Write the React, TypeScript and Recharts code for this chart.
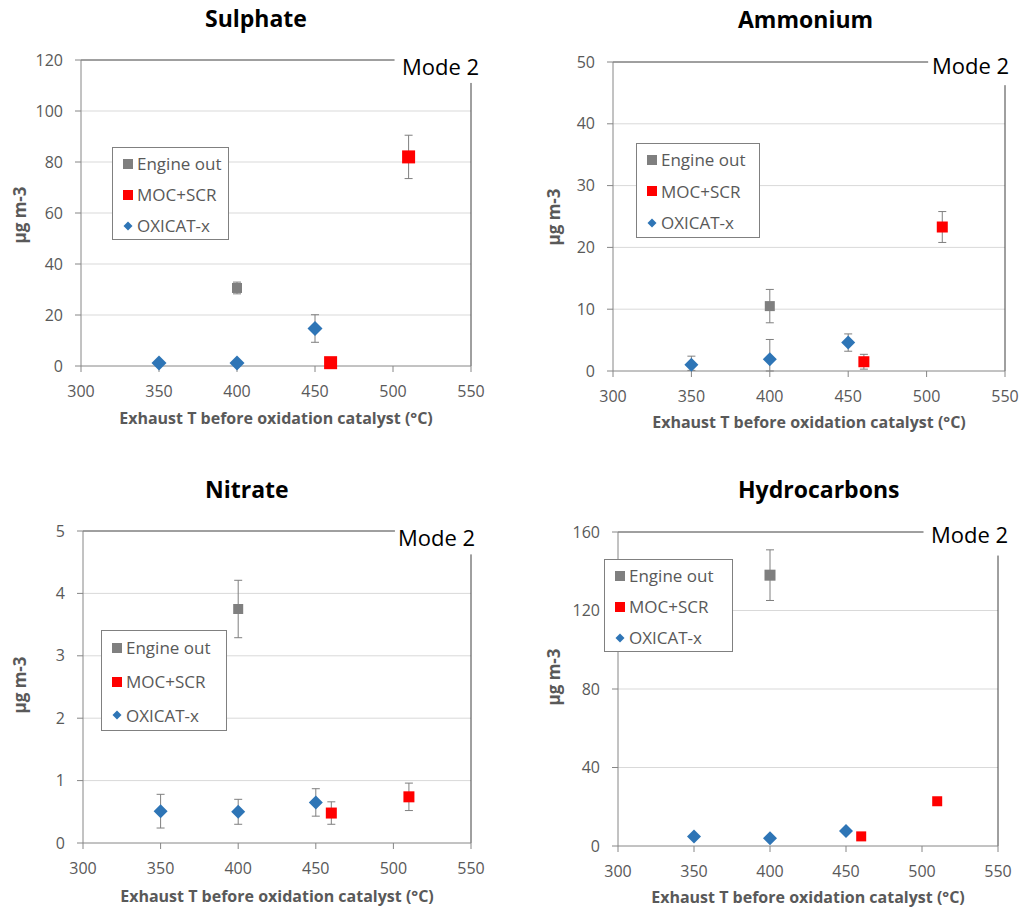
import React from "react";
import { CartesianGrid, ErrorBar, Legend, ReferenceLine, Scatter, ScatterChart, XAxis, YAxis } from "recharts";

const FONT = "'Open Sans', Lato, sans-serif";
const GREY = "#7f7f7f";
const RED = "#ff0000";
const BLUE = "#2e75b6";
const AXIS = "#868686";
const LABEL = "#595959";

type Err = number | [number, number];

// shared x values (exhaust T, °C)
const X_TICKS = [300, 350, 400, 450, 500, 550];
const ENGINE_T = [400];
const MOC_T = [460, 510];
const OXICAT_T = [350, 400, 450];

// Sulphate
const SULPHATE_TICKS = [0, 20, 40, 60, 80, 100, 120];
const SULPHATE_ENGINE = [30.6];
const SULPHATE_ENGINE_ERR: Err[] = [2.3];
const SULPHATE_MOC = [1.3, 82];
const SULPHATE_MOC_ERR: Err[] = [0.5, 8.5];
const SULPHATE_OXICAT = [1.2, 1.2, 14.7];
const SULPHATE_OXICAT_ERR: Err[] = [0.5, 0.5, 5.4];

// Ammonium
const AMMONIUM_TICKS = [0, 10, 20, 30, 40, 50];
const AMMONIUM_ENGINE = [10.5];
const AMMONIUM_ENGINE_ERR: Err[] = [2.7];
const AMMONIUM_MOC = [1.5, 23.3];
const AMMONIUM_MOC_ERR: Err[] = [1.2, 2.5];
const AMMONIUM_OXICAT = [1.0, 1.9, 4.6];
const AMMONIUM_OXICAT_ERR: Err[] = [[0.9, 1.4], [1.9, 3.2], 1.4];

// Nitrate
const NITRATE_TICKS = [0, 1, 2, 3, 4, 5];
const NITRATE_ENGINE = [3.75];
const NITRATE_ENGINE_ERR: Err[] = [0.46];
const NITRATE_MOC = [0.48, 0.74];
const NITRATE_MOC_ERR: Err[] = [0.18, 0.22];
const NITRATE_OXICAT = [0.51, 0.5, 0.65];
const NITRATE_OXICAT_ERR: Err[] = [0.27, 0.2, 0.22];

// Hydrocarbons
const HC_TICKS = [0, 40, 80, 120, 160];
const HC_ENGINE = [138];
const HC_ENGINE_ERR: Err[] = [12.9];
const HC_MOC = [4.9, 22.8];
const HC_MOC_ERR: Err[] = [0, 0];
const HC_OXICAT = [4.9, 3.9, 7.6];
const HC_OXICAT_ERR: Err[] = [0, 0, 0];

const zip = (xs: number[], ys: number[], errs: Err[]) => xs.map((x, i) => ({ x, y: ys[i], err: errs[i] }));

const square = (size: number, fill: string) => (p: any) =>
  <rect x={p.cx - size / 2} y={p.cy - size / 2} width={size} height={size} fill={fill} />;

const diamond = (size: number, fill: string) => (p: any) => {
  const h = size / 2;
  return <polygon points={`${p.cx},${p.cy - h} ${p.cx + h},${p.cy} ${p.cx},${p.cy + h} ${p.cx - h},${p.cy}`} fill={fill} />;
};

const legendMarkers = [
  <rect x={1} y={1} width={10} height={10} fill={GREY} />,
  <rect x={1} y={1} width={10} height={10} fill={RED} />,
  <polygon points="6,1.5 10.5,6 6,10.5 1.5,6" fill={BLUE} />,
];

const PANELS = [
  {
    title: "Sulphate", ticks: SULPHATE_TICKS,
    engine: zip(ENGINE_T, SULPHATE_ENGINE, SULPHATE_ENGINE_ERR),
    moc: zip(MOC_T, SULPHATE_MOC, SULPHATE_MOC_ERR),
    oxicat: zip(OXICAT_T, SULPHATE_OXICAT, SULPHATE_OXICAT_ERR),
    px: 0, py: 0, w: 511, h: 455, plot: { l: 81, t: 60, r: 471, b: 366 },
    titleAt: [205, 27], modeAt: [402, 75], yLab: [19, 215], xLab: [276, 424],
    legend: { x: 112, y: 147, w: 117, row: 31 }, sizes: [10, 13, 15],
  },
  {
    title: "Ammonium", ticks: AMMONIUM_TICKS,
    engine: zip(ENGINE_T, AMMONIUM_ENGINE, AMMONIUM_ENGINE_ERR),
    moc: zip(MOC_T, AMMONIUM_MOC, AMMONIUM_MOC_ERR),
    oxicat: zip(OXICAT_T, AMMONIUM_OXICAT, AMMONIUM_OXICAT_ERR),
    px: 510, py: 0, w: 511, h: 455, plot: { l: 613, t: 62, r: 1005, b: 371 },
    titleAt: [738, 28], modeAt: [932, 74], yLab: [553, 217], xLab: [809, 428],
    legend: { x: 636, y: 143, w: 124, row: 31.5 }, sizes: [10, 11, 14],
  },
  {
    title: "Nitrate", ticks: NITRATE_TICKS,
    engine: zip(ENGINE_T, NITRATE_ENGINE, NITRATE_ENGINE_ERR),
    moc: zip(MOC_T, NITRATE_MOC, NITRATE_MOC_ERR),
    oxicat: zip(OXICAT_T, NITRATE_OXICAT, NITRATE_OXICAT_ERR),
    px: 0, py: 465, w: 511, h: 446, plot: { l: 83, t: 531, r: 471, b: 843 },
    titleAt: [205, 498], modeAt: [398, 546], yLab: [19, 685], xLab: [277, 902],
    legend: { x: 101, y: 630, w: 126, row: 33.7 }, sizes: [10, 11, 14],
  },
  {
    title: "Hydrocarbons", ticks: HC_TICKS,
    engine: zip(ENGINE_T, HC_ENGINE, HC_ENGINE_ERR),
    moc: zip(MOC_T, HC_MOC, HC_MOC_ERR),
    oxicat: zip(OXICAT_T, HC_OXICAT, HC_OXICAT_ERR),
    px: 510, py: 465, w: 511, h: 446, plot: { l: 618, t: 532, r: 998, b: 846 },
    titleAt: [738, 498], modeAt: [931, 543], yLab: [553, 677], xLab: [808, 903],
    legend: { x: 604, y: 559, w: 129, row: 31 }, sizes: [11, 10, 14],
  },
];

function Panel({ cfg }: { cfg: (typeof PANELS)[number] }) {
  const { px, py, w, h, plot, legend, sizes } = cfg;
  const yAxisW = 60;
  const xAxisH = 40;
  const margin = {
    left: plot.l - px - yAxisW,
    top: plot.t - py,
    right: px + w - plot.r,
    bottom: py + h - plot.b - xAxisH,
  };
  const ymax = cfg.ticks[cfg.ticks.length - 1];
  const tick = { fill: LABEL, fontSize: 16, fontFamily: FONT };

  const legendContent = ({ payload }: any) => (
    <div style={{
      width: legend.w, height: legend.row * 3, boxSizing: "border-box", border: "1px solid #808080",
      background: "#fff", fontFamily: FONT, fontSize: 17, color: LABEL,
    }}>
      {(payload || []).map((e: any, i: number) => (
        <div key={i} style={{ height: legend.row, display: "flex", alignItems: "center", paddingLeft: 9 }}>
          <svg width={12} height={12}>{legendMarkers[i]}</svg>
          <span style={{ marginLeft: 3, whiteSpace: "nowrap" }}>{e.value}</span>
        </div>
      ))}
    </div>
  );

  return (
    <div style={{ position: "absolute", left: px, top: py, width: w, height: h }}>
      <ScatterChart width={w} height={h} margin={margin}>
        <CartesianGrid horizontal vertical={false} horizontalValues={cfg.ticks.slice(1, -1)} stroke="#d9d9d9" />
        <XAxis type="number" dataKey="x" domain={[300, 550]} ticks={X_TICKS} interval={0}
          height={xAxisH} tickSize={6} tickMargin={14} stroke={AXIS} tick={tick} />
        <YAxis type="number" dataKey="y" domain={[0, ymax]} ticks={cfg.ticks} interval={0}
          width={yAxisW} tickSize={6} tickMargin={12} stroke={AXIS} tick={tick} />
        <ReferenceLine segment={[{ x: 300, y: ymax }, { x: 501, y: ymax }]} stroke="#404040" />
        <ReferenceLine segment={[{ x: 550, y: 0 }, { x: 550, y: ymax * 0.925 }]} stroke="#404040" />
        <Legend layout="vertical" align="center" verticalAlign="middle" content={legendContent}
          wrapperStyle={{ left: legend.x - px, top: legend.y - py, width: legend.w, height: legend.row * 3 }} />
        <Scatter name="Engine out" data={cfg.engine} fill={GREY} shape={square(sizes[0], GREY)} isAnimationActive={false}>
          <ErrorBar dataKey="err" direction="y" width={4} stroke={GREY} strokeWidth={1} />
        </Scatter>
        <Scatter name="MOC+SCR" data={cfg.moc} fill={RED} shape={square(sizes[1], RED)} isAnimationActive={false}>
          <ErrorBar dataKey="err" direction="y" width={4} stroke={GREY} strokeWidth={1} />
        </Scatter>
        <Scatter name="OXICAT-x" data={cfg.oxicat} fill={BLUE} shape={diamond(sizes[2], BLUE)} isAnimationActive={false}>
          <ErrorBar dataKey="err" direction="y" width={4} stroke={GREY} strokeWidth={1} />
        </Scatter>
      </ScatterChart>
      <svg width={w} height={h} style={{ position: "absolute", left: 0, top: 0, pointerEvents: "none" }}>
        <text x={cfg.titleAt[0] - px} y={cfg.titleAt[1] - py} fontFamily={FONT} fontSize={23} fontWeight="bold" fill="#000">
          {cfg.title}
        </text>
        <text x={cfg.modeAt[0] - px} y={cfg.modeAt[1] - py} fontFamily={FONT} fontSize={22} fill="#000">Mode 2</text>
        <text x={cfg.xLab[0] - px} y={cfg.xLab[1] - py} textAnchor="middle" fontFamily={FONT} fontSize={16} fontWeight="bold" fill={LABEL}>
          Exhaust T before oxidation catalyst (°C)
        </text>
        <text transform={`translate(${cfg.yLab[0] - px},${cfg.yLab[1] - py}) rotate(-90)`} textAnchor="middle"
          dominantBaseline="central" fontFamily={FONT} fontSize={17} fontWeight="bold" fill={LABEL}>
          µg m-3
        </text>
      </svg>
    </div>
  );
}

export default function App() {
  return (
    <div style={{ position: "absolute", left: 0, top: 0, width: 1021, height: 911, background: "#fff" }}>
      {PANELS.map((p) => <Panel key={p.title} cfg={p} />)}
    </div>
  );
}
